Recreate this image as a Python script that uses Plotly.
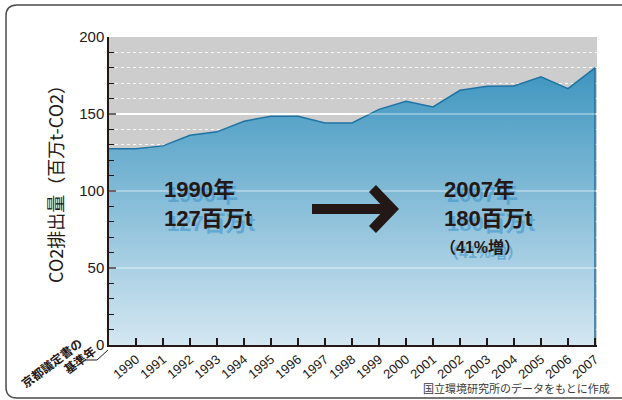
import plotly.graph_objects as go

years = list(range(1990, 2008))
co2 = [127.5, 129.3, 136.2, 138.4, 145.3, 148.6, 148.6, 144.2, 144.2, 153.0,
       158.3, 154.6, 165.4, 168.0, 168.2, 174.1, 166.5, 180.0]
year_labels = [str(y) for y in years]
y_ticks = [0, 50, 100, 150, 200]
y_labels = ["0", "50", "100", "150", "200"]
base_year = 1989  # Kyoto Protocol base-year bracket extends one step left

W, H = 622, 400
L, R, T, B = 109, 25, 37, 55
PW, PH = W - L - R, H - T - B

def px(x):
    return (x - L) / PW

def py(y):
    return (H - B - y) / PH

FONT = "Liberation Sans, Arial, Noto Sans CJK JP, sans-serif"
CJK = "Noto Sans CJK JP, Liberation Sans, sans-serif"
INK = "#231815"

xs = [base_year] + years + [years[-1]]
ys = [co2[0]] + co2 + [0]

fig = go.Figure()
fig.add_trace(go.Scatter(
    x=xs, y=ys, mode="lines", fill="tozeroy",
    line=dict(color="#1f73a3", width=1.5),
    fillgradient=dict(type="vertical", start=0, stop=185,
                      colorscale=[[0, "#d4e7f2"], [1, "#3993be"]]),
    hoverinfo="skip", showlegend=False,
))

shapes = []
for v in y_ticks[1:-1]:
    shapes.append(dict(type="line", xref="paper", yref="y", x0=0, x1=1, y0=v, y1=v,
                       line=dict(color="rgba(255,255,255,0.45)", width=1.5), layer="above"))

x0f, y0f, x1f, y1f, r = 6, 5, 660, 398, 11
def P(x, y):
    return f"{px(x):.5f},{py(y):.5f}"
frame = (f"M {P(x0f + r, y0f)} L {P(x1f, y0f)} M {P(x1f, y1f)} L {P(x0f + r, y1f)} "
         f"Q {P(x0f, y1f)} {P(x0f, y1f - r)} L {P(x0f, y0f + r)} Q {P(x0f, y0f)} {P(x0f + r, y0f)}")
shapes.append(dict(type="path", xref="paper", yref="paper", path=frame,
                   line=dict(color="#4a4a4a", width=1.5), layer="below"))

bar = f"M {P(312, 204)} L {P(388, 204)} L {P(388, 214)} L {P(312, 214)} Z"
shapes.append(dict(type="path", xref="paper", yref="paper", path=bar,
                   fillcolor=INK, line=dict(width=0), layer="above"))
chev = (f"M {P(369, 192)} L {P(376, 185)} L {P(399, 209)} L {P(376, 233)} "
        f"L {P(369, 226)} L {P(385, 209)} Z")
shapes.append(dict(type="path", xref="paper", yref="paper", path=chev,
                   fillcolor=INK, line=dict(width=0), layer="above"))

br = f"M {P(85, 360)} L {P(97, 360)} L {P(108, 350)}"
shapes.append(dict(type="path", xref="paper", yref="paper", path=br,
                   line=dict(color=INK, width=1), layer="above"))

ann = []
def text(x, y, s, size, color=INK, xa="left", ya="top", angle=0, xs_=0, ys_=0, bold=False, family=FONT):
    ann.append(dict(x=px(x), y=py(y), xref="paper", yref="paper", text=(f"<b>{s}</b>" if bold else s),
                    showarrow=False, xanchor=xa, yanchor=ya, textangle=angle,
                    xshift=xs_, yshift=ys_, align="left",
                    font=dict(family=family, size=size, color=color)))

shadow = "rgba(50,140,198,0.5)"
for col, dx, dy in [(shadow, 3, -5), (INK, 0, 0)]:
    text(162, 175, "1990年<br>127百万t", 22, col, xs_=dx, ys_=dy, bold=True)
    text(442, 175, "2007年<br>180百万t", 22, col, xs_=dx, ys_=dy, bold=True)
    text(438, 236, "（41%増）", 16, col, xs_=dx, ys_=dy, bold=True)

text(55, 180, "CO2排出量（百万t-CO2）", 18, INK, xa="center", ya="middle", angle=-90, family=CJK)
text(612, 388, "国立環境研究所のデータをもとに作成", 11, "#3a3a3a", xa="right", ya="middle", family=CJK)
text(51, 362, "京都議定書の", 12, INK, xa="center", ya="middle", angle=-37, bold=True, family=CJK)
text(79, 359, "基準年", 12, INK, xa="center", ya="middle", angle=-37, bold=True, family=CJK)

fig.update_layout(
    width=W, height=H,
    margin=dict(l=L, r=R, t=T, b=B, pad=0),
    paper_bgcolor="white", plot_bgcolor="#cdcdcd",
    font=dict(family=FONT, color=INK),
    shapes=shapes, annotations=ann,
    xaxis=dict(range=[base_year, years[-1] + 0.074], tickvals=years, ticktext=year_labels,
               tickangle=-40, ticks="inside", ticklen=7, tickwidth=1.5, tickcolor=INK,
               showline=True, linecolor=INK, linewidth=1.5, showgrid=False, zeroline=False,
               tickfont=dict(size=13, family=FONT, color=INK), layer="above traces", fixedrange=True),
    yaxis=dict(range=[0, 200], tickvals=y_ticks, ticktext=y_labels,
               ticks="inside", ticklen=7, tickwidth=1.5, tickcolor=INK,
               showline=True, linecolor=INK, linewidth=1.5,
               showgrid=True, gridcolor="white", gridwidth=1.5, zeroline=False,
               minor=dict(dtick=10, ticks="inside", ticklen=5, tickcolor=INK, tickwidth=1,
                          showgrid=True, gridcolor="rgba(255,255,255,0.9)", griddash="dot", gridwidth=1),
               tickfont=dict(size=15, family=FONT, color=INK), layer="above traces", fixedrange=True),
)

fig.write_html("out.html", config=dict(displayModeBar=False),
               post_script="document.body.style.margin='0';document.body.style.overflow='hidden';")
